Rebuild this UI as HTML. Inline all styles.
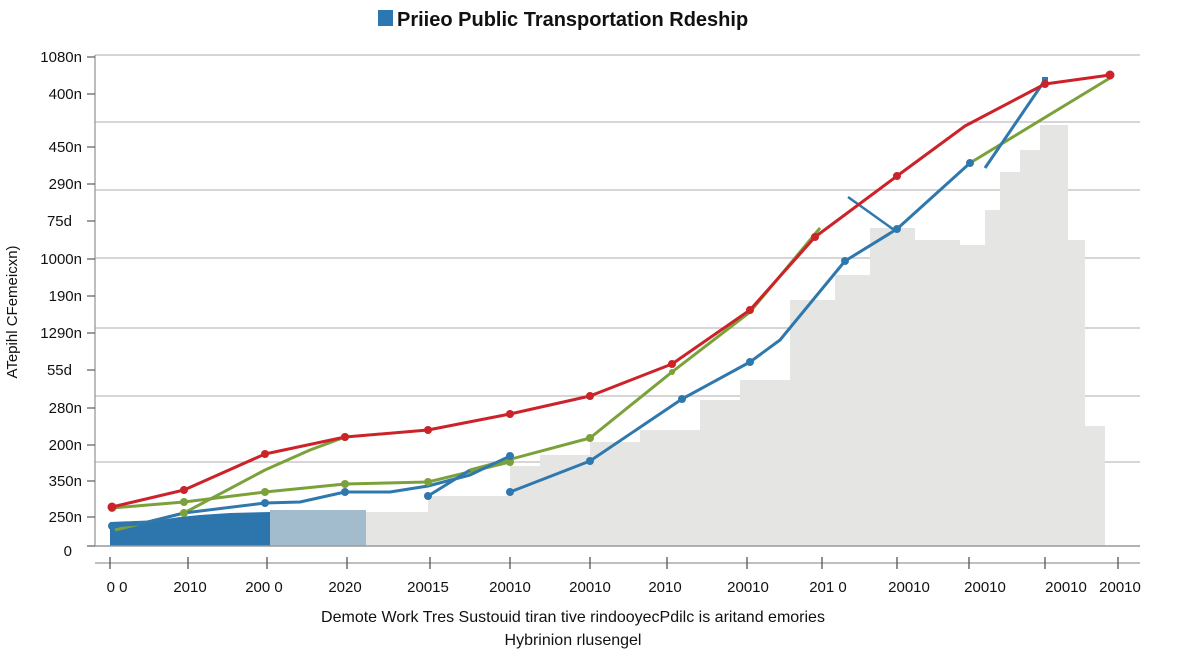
<!DOCTYPE html>
<html><head><meta charset="utf-8"><style>
html,body{margin:0;padding:0;background:#fff;}
svg{display:block;font-family:"Liberation Sans",sans-serif;}
</style></head><body>
<svg width="1200" height="654" viewBox="0 0 1200 654">
<rect width="1200" height="654" fill="#fff"/>
<!-- title -->
<rect x="378" y="10" width="15" height="16" fill="#2d77b0"/>
<text x="397" y="26" font-size="20" font-weight="bold" fill="#111">Priieo Public Transportation Rdeship</text>
<!-- gridlines -->
<g stroke="#bdbdbd" stroke-width="1.3">
<line x1="95" y1="55" x2="1140" y2="55"/>
<line x1="95" y1="122" x2="1140" y2="122"/>
<line x1="95" y1="190" x2="1140" y2="190"/>
<line x1="95" y1="258" x2="1140" y2="258"/>
<line x1="95" y1="328" x2="1140" y2="328"/>
<line x1="95" y1="396" x2="1140" y2="396"/>
<line x1="95" y1="462" x2="1140" y2="462"/>
</g>
<!-- grey area -->
<path d="M365,546 L365,512 L428,512 L428,496 L510,496 L510,466 L540,466 L540,455 L590,455 L590,442 L640,442 L640,430 L700,430 L700,400 L740,400 L740,380 L790,380 L790,300 L835,300 L835,275 L870,275 L870,228 L915,228 L915,240 L960,240 L960,245 L985,245 L985,210 L1000,210 L1000,172 L1020,172 L1020,150 L1040,150 L1040,125 L1068,125 L1068,240 L1085,240 L1085,426 L1105,426 L1105,546 Z" fill="#e5e6e4"/>
<rect x="270" y="510" width="96" height="36" fill="#a3bccd"/>
<path d="M110,546 L110,522 L160,520 L180,517 L200,515 L230,513 L270,512 L270,546 Z" fill="#2d75ad"/>
<line x1="95" y1="546" x2="1140" y2="546" stroke="#999" stroke-width="1.5"/>
<!-- y axis -->
<line x1="95" y1="55" x2="95" y2="546" stroke="#999" stroke-width="1.3"/>
<g stroke="#666" stroke-width="1.3">
<line x1="87" y1="57" x2="95" y2="57"/><line x1="87" y1="94" x2="95" y2="94"/><line x1="87" y1="147" x2="95" y2="147"/><line x1="87" y1="184" x2="95" y2="184"/><line x1="87" y1="221" x2="95" y2="221"/><line x1="87" y1="259" x2="95" y2="259"/><line x1="87" y1="296" x2="95" y2="296"/><line x1="87" y1="333" x2="95" y2="333"/><line x1="87" y1="370" x2="95" y2="370"/><line x1="87" y1="408" x2="95" y2="408"/><line x1="87" y1="445" x2="95" y2="445"/><line x1="87" y1="481" x2="95" y2="481"/><line x1="87" y1="517" x2="95" y2="517"/><line x1="87" y1="546" x2="95" y2="546"/>
</g>
<g font-size="15" fill="#111" text-anchor="end">
<text x="82" y="62">1080n</text><text x="82" y="99">400n</text><text x="82" y="152">450n</text><text x="82" y="189">290n</text><text x="72" y="226">75d</text><text x="82" y="264">1000n</text><text x="82" y="301">190n</text><text x="82" y="338">1290n</text><text x="72" y="375">55d</text><text x="82" y="413">280n</text><text x="82" y="450">200n</text><text x="82" y="486">350n</text><text x="82" y="522">250n</text><text x="72" y="556">0</text>
</g>
<text transform="translate(17,312) rotate(-90)" font-size="15" fill="#111" text-anchor="middle">ATepihl CFemeicxn)</text>
<!-- x axis -->
<line x1="95" y1="563" x2="1140" y2="563" stroke="#999" stroke-width="1.3"/>
<g stroke="#555" stroke-width="1.3">
<line x1="110" y1="557" x2="110" y2="569"/><line x1="188" y1="557" x2="188" y2="569"/><line x1="267" y1="557" x2="267" y2="569"/><line x1="347" y1="557" x2="347" y2="569"/><line x1="430" y1="557" x2="430" y2="569"/><line x1="510" y1="557" x2="510" y2="569"/><line x1="590" y1="557" x2="590" y2="569"/><line x1="667" y1="557" x2="667" y2="569"/><line x1="747" y1="557" x2="747" y2="569"/><line x1="822" y1="557" x2="822" y2="569"/><line x1="897" y1="557" x2="897" y2="569"/><line x1="969" y1="557" x2="969" y2="569"/><line x1="1045" y1="557" x2="1045" y2="569"/><line x1="1118" y1="557" x2="1118" y2="569"/>
</g>
<g font-size="15" fill="#111" text-anchor="middle">
<text x="117" y="592">0  0</text><text x="190" y="592">2010</text><text x="264" y="592">200 0</text><text x="345" y="592">2020</text><text x="428" y="592">20015</text><text x="510" y="592">20010</text><text x="590" y="592">20010</text><text x="665" y="592">2010</text><text x="748" y="592">20010</text><text x="828" y="592">201 0</text><text x="909" y="592">20010</text><text x="985" y="592">20010</text><text x="1066" y="592">20010</text><text x="1120" y="592">20010</text>
</g>
<text x="573" y="622" font-size="16" fill="#111" text-anchor="middle">Demote Work Tres Sustouid tiran tive rindooyecPdilc is aritand emories</text>
<text x="573" y="645" font-size="16" fill="#111" text-anchor="middle">Hybrinion rlusengel</text>
<!-- series -->
<g fill="none" stroke-width="3" stroke-linejoin="round">
<polyline stroke="#7ba23a" points="112,508 184,502 265,492 345,484 428,482 510,462"/>
<polyline stroke="#7ba23a" points="115,530 184,513 265,470 310,450 345,437"/>
<polyline stroke="#7ba23a" points="470,470 590,438 672,372 750,312 820,228"/>
<polyline stroke="#7ba23a" points="970,163 1110,78"/>
<polyline stroke="#2f78ad" points="112,526 140,524 184,513 265,503 300,502 345,492 390,492 428,486 470,475 510,456"/>
<polyline stroke="#2f78ad" points="428,496 470,470"/>
<polyline stroke="#2f78ad" points="510,492 590,461 682,399 750,362 780,340 845,261 897,229 970,163"/>
<polyline stroke="#2f78ad" stroke-width="2.5" points="848,197 897,232"/>
<polyline stroke="#2f78ad" points="985,168 1045,80"/>
<polyline stroke="#cc2229" points="112,507 184,490 265,454 345,437 428,430 510,414 590,396 672,364 750,310 815,237 897,176 965,126 1045,84 1110,75"/>
</g>
<g fill="#7ba23a"><circle cx="112" cy="508" r="4"/><circle cx="184" cy="502" r="4"/><circle cx="265" cy="492" r="4"/><circle cx="345" cy="484" r="4"/><circle cx="428" cy="482" r="4"/><circle cx="510" cy="462" r="4"/><circle cx="184" cy="513" r="4"/><circle cx="345" cy="437" r="4"/><circle cx="590" cy="438" r="4"/><circle cx="672" cy="372" r="3"/></g>
<g fill="#2f78ad"><circle cx="112" cy="526" r="4"/><circle cx="265" cy="503" r="4"/><circle cx="345" cy="492" r="4"/><circle cx="428" cy="496" r="4"/><circle cx="510" cy="456" r="4"/><circle cx="510" cy="492" r="4"/><circle cx="590" cy="461" r="4"/><circle cx="682" cy="399" r="4"/><circle cx="750" cy="362" r="4"/><circle cx="845" cy="261" r="4"/><circle cx="897" cy="229" r="4"/><circle cx="970" cy="163" r="4"/><rect x="1042" y="77" width="6" height="7"/></g>
<g fill="#cc2229"><circle cx="112" cy="507" r="4.5"/><circle cx="184" cy="490" r="4"/><circle cx="265" cy="454" r="4"/><circle cx="345" cy="437" r="4"/><circle cx="428" cy="430" r="4"/><circle cx="510" cy="414" r="4"/><circle cx="590" cy="396" r="4"/><circle cx="672" cy="364" r="4"/><circle cx="750" cy="310" r="4"/><circle cx="815" cy="237" r="4"/><circle cx="897" cy="176" r="4"/><circle cx="1045" cy="84" r="4"/><circle cx="1110" cy="75" r="4.5"/></g>
</svg>
</body></html>
